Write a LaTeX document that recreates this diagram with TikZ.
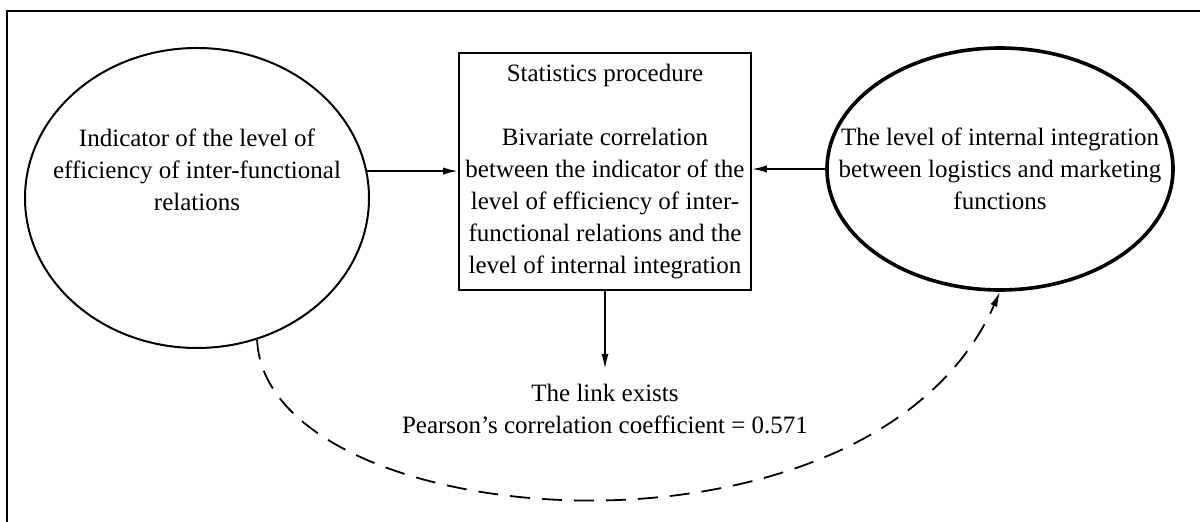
\documentclass[tikz,border=0pt]{standalone}
\usepackage{fontspec}
\setmainfont{Liberation Serif}
\usetikzlibrary{shapes.geometric,arrows.meta}

\tikzset{
  txt/.style={font=\fontsize{12.5}{16}\selectfont, align=center, inner sep=0pt},
  oval/.style={ellipse, draw, inner sep=0pt},
  procbox/.style={txt, draw, line width=0.9pt, minimum width=146pt, minimum height=118.5pt},
  link/.style={line width=0.9pt, -{Latex[length=7.5pt,width=3.6pt]}}
}

\begin{document}
\begin{tikzpicture}[x=0.5pt,y=-0.5pt]
        \useasboundingbox (0,0) rectangle (1200,522);

        % Frame (left and top edges only)
        \draw[line width=1.2pt] (7,522) -- (7,11) -- (1200,11);

        % Nodes (the two variables)
        \node[oval, line width=1pt, minimum width=172pt, minimum height=150pt] (Eff) at (197,198) {};
        \node[txt] (EffText) at (197,170)
            {Indicator of the level of\\efficiency of inter-functional\\relations};
        \node[oval, line width=1.8pt, minimum width=173pt, minimum height=121pt] (Integ) at (1000,169) {};
        \node[txt] (IntegText) at (Integ.center)
            {The level of internal integration\\between logistics and marketing\\functions};

        % Node (procedure)
        \node[procbox] (Proc) at (605,171.5)
            {Statistics procedure\\[16pt]Bivariate correlation\\between the indicator of the\\level of efficiency of inter-\\functional relations and the\\level of internal integration};

        % Nodes (result)
        \node[txt] (Link) at (605,393) {The link exists};
        \node[txt] (Coef) at (605,425) {Pearson’s correlation coefficient = 0.571};

        % Connecting arrows
        \draw[link] (Eff.9.4) -- (Eff.9.4 -| Proc.west);
        \draw[link] (Integ.west) -- (Integ.west -| Proc.east);
        \draw[link, shorten >=7.5pt] (Proc.south) -- (Link.north);

        \draw[link, dash pattern=on 10pt off 6pt] (Eff.-67.6) .. controls (265,535) and (870,585) .. (Integ.south);

    \end{tikzpicture}
\end{document}
